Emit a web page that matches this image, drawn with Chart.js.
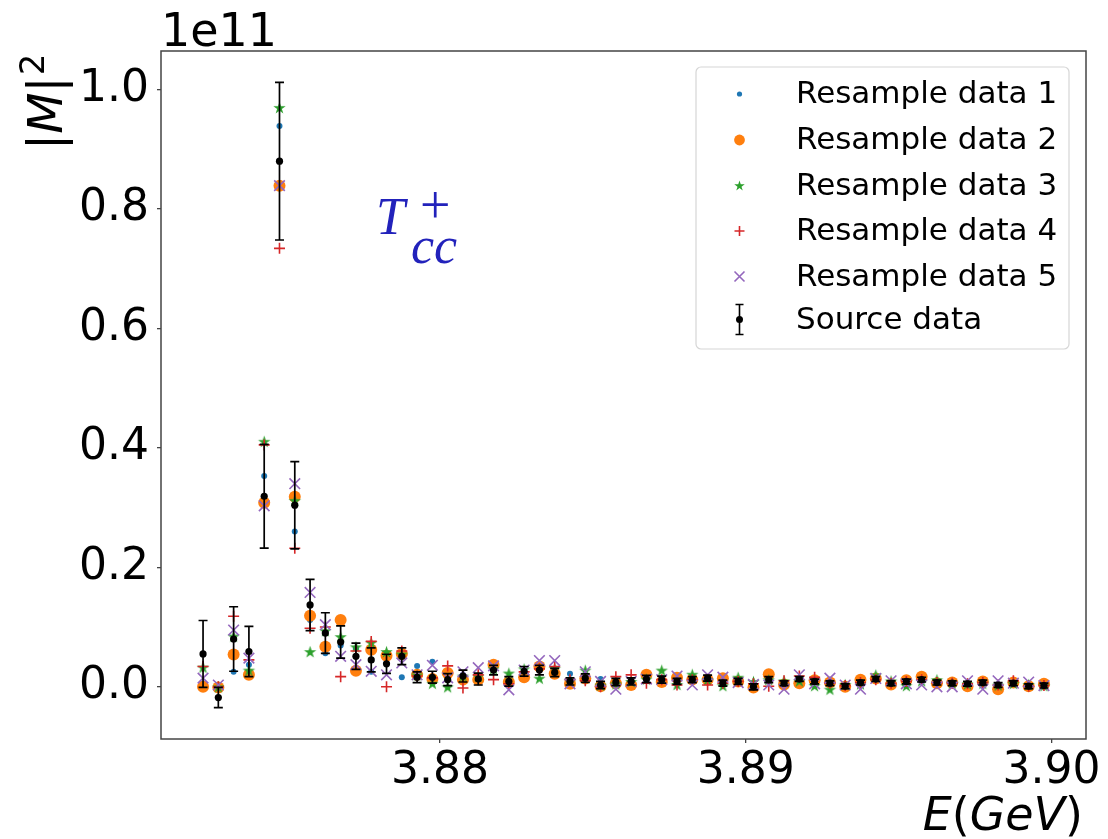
<!DOCTYPE html>
<html>
<head>
<meta charset="utf-8">
<script src="https://cdn.jsdelivr.net/npm/chart.js@4.4.0/dist/chart.umd.min.js"></script>
<style>
  html, body { margin: 0; padding: 0; background: #fff; }
  canvas { display: block; }
</style>
</head>
<body>
<canvas id="grafico" width="1108" height="839"></canvas>
<script>
// ===============================
// DADOS (|M|^2 em unidades de 1e11)
// ===============================
const energias = [
  3.87225, 3.87275, 3.87325, 3.87375, 3.87425, 3.87475, 3.87525, 3.87575, 3.87625, 3.87675,
  3.87725, 3.87775, 3.87825, 3.87875, 3.87925, 3.87975, 3.88025, 3.88075, 3.88125, 3.88175,
  3.88225, 3.88275, 3.88325, 3.88375, 3.88425, 3.88475, 3.88525, 3.88575, 3.88625, 3.88675,
  3.88725, 3.88775, 3.88825, 3.88875, 3.88925, 3.88975, 3.89025, 3.89075, 3.89125, 3.89175,
  3.89225, 3.89275, 3.89325, 3.89375, 3.89425, 3.89475, 3.89525, 3.89575, 3.89625, 3.89675,
  3.89725, 3.89775, 3.89825, 3.89875, 3.89925, 3.89975
];

const fonte = [
  0.055, -0.018, 0.080, 0.059, 0.319, 0.880, 0.304, 0.137, 0.090, 0.075,
  0.051, 0.045, 0.0385, 0.051, 0.016, 0.016, 0.012, 0.018, 0.013, 0.028,
  0.009, 0.026, 0.028, 0.024, 0.009, 0.0145, 0.003, 0.008, 0.009, 0.013,
  0.012, 0.009, 0.012, 0.0145, 0.006, 0.009, 0.000, 0.012, 0.006, 0.013,
  0.009, 0.006, 0.001, 0.007, 0.013, 0.006, 0.009, 0.012, 0.007, 0.006,
  0.005, 0.007, 0.003, 0.006, 0.001, 0.002
];

const erros = [
  0.056, 0.017, 0.054, 0.042, 0.087, 0.132, 0.073, 0.043, 0.034, 0.027,
  0.022, 0.020, 0.016, 0.014, 0.009, 0.010, 0.010, 0.010, 0.010, 0.008,
  0.008, 0.008, 0.008, 0.007, 0.006, 0.007, 0.006, 0.006, 0.006, 0.006,
  0.006, 0.005, 0.005, 0.005, 0.005, 0.005, 0.005, 0.005, 0.004, 0.004,
  0.004, 0.004, 0.004, 0.004, 0.004, 0.004, 0.004, 0.004, 0.004, 0.004,
  0.004, 0.004, 0.004, 0.004, 0.004, 0.004
];

const resample1 = [
  0.005, 0.000, 0.025, 0.037, 0.353, 0.939, 0.260, 0.112, 0.056, 0.069,
  0.064, 0.025, 0.040, 0.016, 0.035, 0.042, 0.015, 0.020, 0.015, 0.030,
  0.010, 0.025, 0.030, 0.028, 0.022, 0.015, 0.013, 0.008, 0.009, 0.022,
  0.015, 0.010, 0.015, 0.015, 0.010, 0.010, 0.003, 0.012, 0.006, 0.013,
  0.009, 0.006, 0.001, 0.007, 0.013, 0.006, 0.009, 0.012, 0.007, 0.006,
  0.005, 0.007, 0.003, 0.006, 0.001, 0.002
];

const resample2 = [
  0.000, -0.001, 0.054, 0.020, 0.308, 0.839, 0.318, 0.119, 0.067, 0.112,
  0.027, 0.062, 0.052, 0.055, 0.020, 0.013, 0.023, 0.012, 0.012, 0.037,
  0.008, 0.016, 0.034, 0.022, 0.005, 0.014, 0.001, 0.006, 0.003, 0.020,
  0.008, 0.015, 0.012, 0.012, 0.0145, 0.009, -0.001, 0.021, 0.004, 0.006,
  0.011, 0.007, 0.000, 0.012, 0.014, 0.004, 0.011, 0.017, 0.006, 0.007,
  0.001, 0.009, -0.004, 0.007, 0.001, 0.005
];

const resample3 = [
  0.033, 0.000, 0.085, 0.028, 0.411, 0.970, 0.312, 0.059, 0.094, 0.084,
  0.067, 0.074, 0.059, 0.055, 0.020, 0.006, 0.000, 0.018, 0.018, 0.030,
  0.023, 0.030, 0.0145, 0.031, 0.010, 0.028, 0.003, 0.005, 0.009, 0.013,
  0.028, 0.004, 0.021, 0.012, 0.002, 0.016, 0.009, 0.012, 0.010, 0.010,
  0.002, -0.004, 0.004, 0.005, 0.020, 0.010, 0.002, 0.010, 0.012, 0.006,
  0.005, 0.006, 0.003, 0.006, 0.004, 0.002
];

const resample4 = [
  0.034, 0.000, 0.118, 0.045, 0.405, 0.734, 0.232, 0.098, 0.100, 0.017,
  0.060, 0.076, 0.000, 0.060, 0.018, 0.015, 0.035, -0.002, 0.020, 0.012,
  0.005, 0.025, 0.030, 0.034, 0.012, 0.010, 0.000, 0.017, 0.020, 0.006,
  0.012, 0.003, 0.012, 0.003, 0.006, 0.009, 0.005, 0.001, 0.010, 0.018,
  0.016, 0.006, 0.002, 0.007, 0.012, 0.006, 0.009, 0.012, 0.007, 0.006,
  0.005, 0.007, 0.003, 0.010, 0.001, 0.002
];

const resample5 = [
  0.0145, 0.003, 0.095, 0.048, 0.303, 0.839, 0.340, 0.158, 0.104, 0.051,
  0.037, 0.026, 0.020, 0.040, 0.020, 0.036, 0.015, 0.025, 0.032, 0.035,
  -0.005, 0.028, 0.044, 0.044, 0.005, 0.025, 0.009, -0.004, 0.009, 0.013,
  0.012, 0.018, 0.003, 0.020, 0.016, 0.007, 0.004, 0.003, -0.004, 0.020,
  0.005, 0.0145, 0.003, -0.004, 0.014, 0.010, 0.005, 0.003, 0.000, 0.000,
  0.010, -0.004, 0.010, 0.006, 0.008, 0.002
];

const marcasX = [3.88, 3.89, 3.90];
const marcasY = [0.0, 0.2, 0.4, 0.6, 0.8, 1.0];

const rotulos = [
  'Resample data 1', 'Resample data 2', 'Resample data 3',
  'Resample data 4', 'Resample data 5', 'Source data'
];

const FONTE = 'DejaVu Sans';
const cores = ['#1f77b4', '#ff7f0e', '#2ca02c', '#d62728', '#9467bd', '#000000'];

// ===============================
// MARCADOR ESTRELA (preenchido, como o '*' do matplotlib)
// ===============================
function caminhoEstrela(g, cx, cy, r) {
  g.beginPath();
  for (let k = 0; k < 10; k++) {
    const rr = k % 2 === 0 ? r : r * 0.382;
    const a = -Math.PI / 2 + k * Math.PI / 5;
    const px = cx + rr * Math.cos(a), py = cy + rr * Math.sin(a);
    if (k) g.lineTo(px, py); else g.moveTo(px, py);
  }
  g.closePath();
}

function criarEstrela(r, cor) {
  const c = document.createElement('canvas');
  const s = Math.ceil(r * 2 + 2);
  c.width = s; c.height = s;
  const g = c.getContext('2d');
  g.fillStyle = cor;
  caminhoEstrela(g, s / 2, s / 2 + r * 0.1, r);
  g.fill();
  return c;
}

const estrela = criarEstrela(6.5, cores[2]);
const pontos = ys => energias.map((x, i) => ({ x, y: ys[i] }));

// ===============================
// PLUGIN: moldura, barras de erro, legenda e textos
// ===============================
const moldura = {
  id: 'moldura',
  afterDraw(chart) {
    const { ctx, chartArea: a } = chart;
    ctx.save();
    ctx.strokeStyle = '#444';
    ctx.lineWidth = 1.5;
    ctx.strokeRect(a.left, a.top, a.right - a.left, a.bottom - a.top);
    ctx.restore();
  }
};

const barrasErro = {
  id: 'barrasErro',
  beforeDatasetDraw(chart, args) {
    if (args.index !== 0) return;
    const { ctx, scales: { x, y } } = chart;
    ctx.save();
    ctx.strokeStyle = '#000';
    ctx.lineWidth = 1.7;
    energias.forEach((e, i) => {
      const px = x.getPixelForValue(e);
      const y1 = y.getPixelForValue(fonte[i] + erros[i]);
      const y2 = y.getPixelForValue(fonte[i] - erros[i]);
      ctx.beginPath();
      ctx.moveTo(px, y1); ctx.lineTo(px, y2);
      ctx.moveTo(px - 4.5, y1); ctx.lineTo(px + 4.5, y1);
      ctx.moveTo(px - 4.5, y2); ctx.lineTo(px + 4.5, y2);
      ctx.stroke();
    });
    ctx.restore();
  }
};

function marcadorLegenda(ctx, i, x, y) {
  ctx.save();
  const cor = cores[i];
  ctx.fillStyle = cor;
  ctx.strokeStyle = cor;
  ctx.lineWidth = 1.6;
  ctx.beginPath();
  if (i === 0) {
    ctx.arc(x, y, 2.6, 0, Math.PI * 2); ctx.fill();
  } else if (i === 1) {
    ctx.arc(x, y, 5.4, 0, Math.PI * 2); ctx.fill();
  } else if (i === 2) {
    caminhoEstrela(ctx, x, y + 0.5, 5.5); ctx.fill();
  } else if (i === 3) {
    ctx.moveTo(x - 5, y); ctx.lineTo(x + 5, y);
    ctx.moveTo(x, y - 5); ctx.lineTo(x, y + 5); ctx.stroke();
  } else if (i === 4) {
    ctx.moveTo(x - 5, y - 5); ctx.lineTo(x + 5, y + 5);
    ctx.moveTo(x + 5, y - 5); ctx.lineTo(x - 5, y + 5); ctx.stroke();
  } else {
    ctx.moveTo(x, y - 15); ctx.lineTo(x, y + 15);
    ctx.moveTo(x - 4, y - 15); ctx.lineTo(x + 4, y - 15);
    ctx.moveTo(x - 4, y + 15); ctx.lineTo(x + 4, y + 15);
    ctx.stroke();
    ctx.beginPath(); ctx.arc(x, y, 3.5, 0, Math.PI * 2); ctx.fill();
  }
  ctx.restore();
}

const legenda = {
  id: 'legenda',
  afterDraw(chart) {
    const { ctx } = chart;
    const bx = 696, by = 67, bw = 373, bh = 282;
    ctx.save();
    ctx.fillStyle = 'rgba(255,255,255,0.8)';
    ctx.strokeStyle = '#d6d6d6';
    ctx.lineWidth = 1.2;
    ctx.beginPath();
    ctx.roundRect(bx, by, bw, bh, 5);
    ctx.fill(); ctx.stroke();

    const linhasY = [94, 140, 185.5, 231, 276.5, 319.5];
    ctx.font = `31px "${FONTE}"`;
    ctx.textBaseline = 'middle';
    rotulos.forEach((r, i) => {
      marcadorLegenda(ctx, i, 739.5, linhasY[i]);
      ctx.fillStyle = '#000';
      ctx.fillText(r, 796, linhasY[i] + 1);
    });
    ctx.restore();
  }
};

const textos = {
  id: 'textos',
  afterDraw(chart) {
    const { ctx } = chart;
    ctx.save();
    ctx.fillStyle = '#000';
    ctx.textBaseline = 'alphabetic';

    // fator de escala do eixo y
    ctx.font = `46px "${FONTE}"`;
    ctx.textAlign = 'left';
    ctx.fillText('1e11', 161, 46);

    // título do eixo y: |M|^2
    ctx.save();
    ctx.translate(62, 150);
    ctx.rotate(-Math.PI / 2);
    ctx.font = `48px "${FONTE}"`;
    ctx.fillText('|', 0, 0);
    let w = ctx.measureText('|').width;
    ctx.font = `italic 48px "${FONTE}"`;
    ctx.fillText('M', w, 0);
    w += ctx.measureText('M').width;
    ctx.font = `48px "${FONTE}"`;
    ctx.fillText('|', w, 0);
    w += ctx.measureText('|').width;
    ctx.font = `34px "${FONTE}"`;
    ctx.fillText('2', w + 1, -18);
    ctx.restore();

    // título do eixo x: E(GeV), letras em itálico
    const partes = [['E', true], ['(', false], ['GeV', true], [')', false]];
    const tam = 46;
    let total = 0;
    partes.forEach(([t, it]) => {
      ctx.font = `${it ? 'italic ' : ''}${tam}px "${FONTE}"`;
      total += ctx.measureText(t).width;
    });
    let px = 1083 - total;
    partes.forEach(([t, it]) => {
      ctx.font = `${it ? 'italic ' : ''}${tam}px "${FONTE}"`;
      ctx.fillText(t, px, 830);
      px += ctx.measureText(t).width;
    });

    // anotação T_cc^+
    ctx.fillStyle = '#2222bb';
    ctx.font = 'italic 52px "Liberation Serif"';
    ctx.fillText('T', 376, 234);
    ctx.font = 'italic 52px "Liberation Serif"';
    ctx.fillText('cc', 411, 263);
    ctx.font = '54px "Liberation Serif"';
    ctx.fillText('+', 420, 223);
    ctx.restore();
  }
};

// ===============================
// GRÁFICO
// ===============================
function criarGrafico() {
  const canvas = document.getElementById('grafico');
  const tickFont = { family: FONTE, size: 44 };

  new Chart(canvas, {
    type: 'scatter',
    data: {
      datasets: [
        { label: rotulos[5], data: pontos(fonte), pointStyle: 'circle', pointRadius: 3.6,
          backgroundColor: cores[5], borderWidth: 0, order: 1 },
        { label: rotulos[4], data: pontos(resample5), pointStyle: 'crossRot', pointRadius: 7.5,
          borderColor: cores[4], borderWidth: 1.6, order: 2 },
        { label: rotulos[3], data: pontos(resample4), pointStyle: 'cross', pointRadius: 5.5,
          borderColor: cores[3], borderWidth: 1.6, order: 3 },
        { label: rotulos[2], data: pontos(resample3), pointStyle: estrela, pointRadius: 6,
          backgroundColor: cores[2], order: 4 },
        { label: rotulos[1], data: pontos(resample2), pointStyle: 'circle', pointRadius: 6,
          backgroundColor: cores[1], borderWidth: 0, order: 5 },
        { label: rotulos[0], data: pontos(resample1), pointStyle: 'circle', pointRadius: 3,
          backgroundColor: cores[0], borderWidth: 0, order: 6 }
      ]
    },
    options: {
      responsive: false,
      devicePixelRatio: 1,
      animation: false,
      events: [],
      layout: { padding: { left: 0, top: 51, right: 22, bottom: 0 } },
      plugins: { legend: { display: false }, tooltip: { enabled: false } },
      scales: {
        x: {
          type: 'linear',
          min: 3.870875,
          max: 3.901125,
          afterBuildTicks: ax => { ax.ticks = marcasX.map(v => ({ value: v })); },
          afterFit: ax => { ax.height = 100; ax.paddingLeft = 0; ax.paddingRight = 0; },
          grid: { drawOnChartArea: false, drawTicks: true, tickLength: 4, color: '#444', lineWidth: 1.3 },
          border: { display: false },
          ticks: { font: tickFont, color: '#000', padding: 2, maxRotation: 0, autoSkip: false,
                   callback: v => Number(v).toFixed(2) }
        },
        y: {
          type: 'linear',
          min: -0.0874,
          max: 1.0644,
          afterBuildTicks: ax => { ax.ticks = marcasY.map(v => ({ value: v })); },
          afterFit: ax => { ax.width = 161; ax.paddingTop = 0; ax.paddingBottom = 0; },
          grid: { drawOnChartArea: false, drawTicks: true, tickLength: 4, color: '#444', lineWidth: 1.3 },
          border: { display: false },
          ticks: { font: tickFont, color: '#000', padding: 8, autoSkip: false,
                   callback: v => Number(v).toFixed(1) }
        }
      }
    },
    plugins: [barrasErro, moldura, legenda, textos]
  });
}

criarGrafico();
</script>
</body>
</html>
